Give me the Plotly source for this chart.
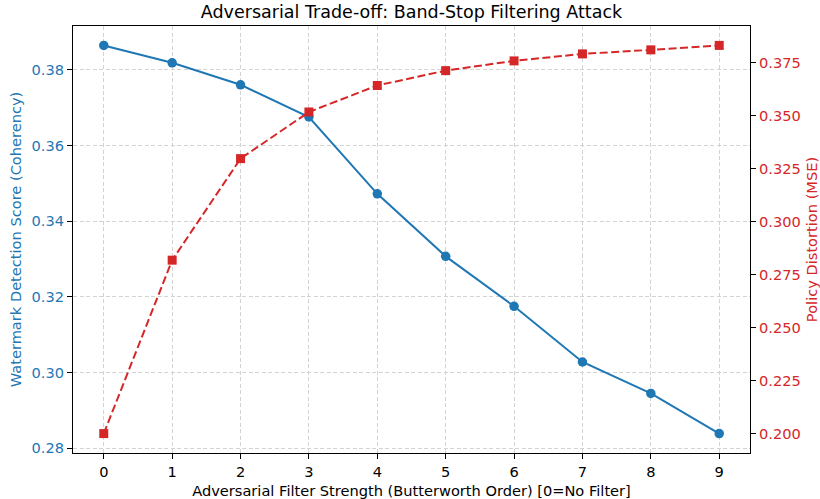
import plotly.graph_objects as go

# Butterworth order of the band-stop filter (0 = no filter)
filter_order = [0, 1, 2, 3, 4, 5, 6, 7, 8, 9]

# Watermark detection score (coherency) per filter strength
detection_score = [0.3864, 0.3818, 0.3760, 0.3675, 0.3472, 0.3307, 0.3175, 0.3028, 0.2945, 0.2839]

# Policy distortion (MSE) per filter strength
policy_mse = [0.2000, 0.2818, 0.3297, 0.3517, 0.3642, 0.3712, 0.3758, 0.3791, 0.3810, 0.3831]

left_ticks = [0.28, 0.30, 0.32, 0.34, 0.36, 0.38]
right_ticks = [0.200, 0.225, 0.250, 0.275, 0.300, 0.325, 0.350, 0.375]

BLUE = "#1f77b4"
RED = "#d62728"
FONT = "DejaVu Sans"
TICK_SIZE = 14.6
LABEL_SIZE = 14.6
TITLE_SIZE = 17.5


def padded(values, frac=0.05):
    lo, hi = min(values), max(values)
    pad = (hi - lo) * frac
    return [lo - pad, hi + pad]


fig = go.Figure()

fig.add_trace(go.Scatter(
    x=filter_order, y=detection_score, mode="lines+markers",
    line=dict(color=BLUE, width=2),
    marker=dict(symbol="circle", size=9.5, color=BLUE),
    name="Detection score", yaxis="y",
))

fig.add_trace(go.Scatter(
    x=filter_order, y=policy_mse, mode="lines+markers",
    line=dict(color=RED, width=2, dash="8px,3.5px"),
    marker=dict(symbol="square", size=9, color=RED),
    name="Policy distortion", yaxis="y2",
))

fig.update_layout(
    width=820, height=499,
    margin=dict(l=73, r=70, t=26, b=46, autoexpand=False),
    paper_bgcolor="white", plot_bgcolor="white",
    showlegend=False,
    font=dict(family=FONT, color="black", size=TICK_SIZE),
    title=dict(
        text="Adversarial Trade-off: Band-Stop Filtering Attack",
        x=(73 + 750) / 2 / 820, xanchor="center",
        y=1 - 12 / 499, yanchor="middle",
        font=dict(family=FONT, size=TITLE_SIZE, color="black"),
    ),
    xaxis=dict(
        range=padded(filter_order),
        tickmode="array", tickvals=filter_order,
        ticks="outside", ticklen=5, tickwidth=1, tickcolor="black",
        tickfont=dict(size=TICK_SIZE, color="black"),
        showline=True, linecolor="black", linewidth=1.2, mirror=True,
        showgrid=True, gridcolor="#d3d3d3", gridwidth=1, griddash="4px,2.5px",
        zeroline=False, automargin=False,
        title=dict(text="Adversarial Filter Strength (Butterworth Order) [0=No Filter]",
                   font=dict(size=LABEL_SIZE, color="black"), standoff=7),
    ),
    yaxis=dict(
        range=padded(detection_score),
        tickmode="array", tickvals=left_ticks,
        ticktext=[f"{v:.2f}" for v in left_ticks],
        ticks="outside", ticklen=5, tickwidth=1, tickcolor="black",
        tickfont=dict(size=TICK_SIZE, color=BLUE),
        showline=True, linecolor="black", linewidth=1.2,
        showgrid=True, gridcolor="#d3d3d3", gridwidth=1, griddash="4px,2.5px",
        zeroline=False, automargin=False,
        title=dict(text="Watermark Detection Score (Coherency)",
                   font=dict(size=LABEL_SIZE, color=BLUE), standoff=6),
    ),
    yaxis2=dict(
        range=padded(policy_mse),
        overlaying="y", side="right",
        tickmode="array", tickvals=right_ticks,
        ticktext=[f"{v:.3f}" for v in right_ticks],
        ticks="outside", ticklen=5, tickwidth=1, tickcolor="black",
        tickfont=dict(size=TICK_SIZE, color=RED),
        showline=True, linecolor="black", linewidth=1.2,
        showgrid=False, zeroline=False, automargin=False,
        title=dict(text="Policy Distortion (MSE)",
                   font=dict(size=LABEL_SIZE, color=RED), standoff=8),
    ),
)

fig.write_html("out.html")
